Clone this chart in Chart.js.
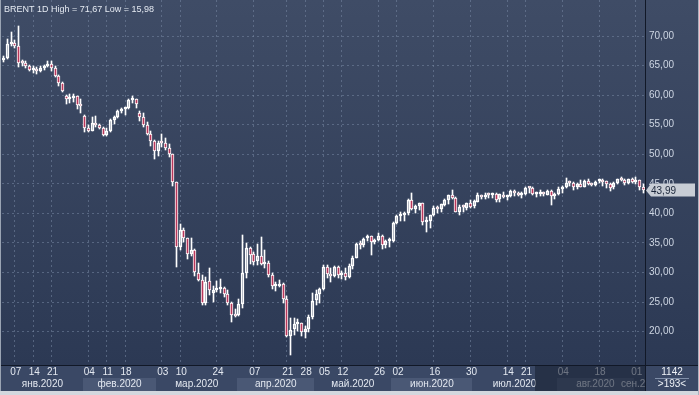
<!DOCTYPE html>
<html><head><meta charset="utf-8">
<script src="https://cdn.jsdelivr.net/npm/chart.js@4/dist/chart.umd.min.js"></script>
<style>html,body{margin:0;padding:0;background:#2e3a53;overflow:hidden}#wrap{width:699px;height:395px;position:relative}</style>
</head><body><div id="wrap"><canvas id="c" width="699" height="395"></canvas></div>
<script>
// ---- data (BRENT daily, 2020) ----
const dates = [
'01-02','01-03','01-06','01-07','01-08','01-09','01-10','01-13','01-14','01-15','01-16','01-17','01-20','01-21','01-22','01-23','01-24','01-27','01-28','01-29','01-30','01-31',
'02-03','02-04','02-05','02-06','02-07','02-10','02-11','02-12','02-13','02-14','02-17','02-18','02-19','02-20','02-21','02-24','02-25','02-26','02-27','02-28',
'03-02','03-03','03-04','03-05','03-06','03-09','03-10','03-11','03-12','03-13','03-16','03-17','03-18','03-19','03-20','03-23','03-24','03-25','03-26','03-27','03-30','03-31',
'04-01','04-02','04-03','04-06','04-07','04-08','04-09','04-13','04-14','04-15','04-16','04-17','04-20','04-21','04-22','04-23','04-24','04-27','04-28','04-29','04-30',
'05-01','05-04','05-05','05-06','05-07','05-08','05-11','05-12','05-13','05-14','05-15','05-18','05-19','05-20','05-21','05-22','05-25','05-26','05-27','05-28','05-29',
'06-01','06-02','06-03','06-04','06-05','06-08','06-09','06-10','06-11','06-12','06-15','06-16','06-17','06-18','06-19','06-22','06-23','06-24','06-25','06-26','06-29','06-30',
'07-01','07-02','07-03','07-06','07-07','07-08','07-09','07-10','07-13','07-14','07-15','07-16','07-17','07-20','07-21','07-22','07-23','07-24','07-27','07-28','07-29','07-30','07-31',
'08-03','08-04','08-05','08-06','08-07','08-10','08-11','08-12','08-13','08-14','08-17','08-18','08-19','08-20','08-21','08-24','08-25','08-26','08-27','08-28','08-31',
'09-01','09-02','09-03'];
const open = [
66.0,66.3,68.7,68.9,68.3,65.4,65.4,65.0,64.2,64.5,64.0,64.6,64.9,65.2,64.6,63.2,62.0,59.8,59.3,59.5,59.8,58.3,
56.4,54.5,54.0,55.3,54.9,54.5,53.3,54.0,55.8,56.3,57.3,57.7,57.8,59.1,59.3,57.0,56.3,55.0,53.4,52.2,
50.5,51.9,51.9,51.1,50.0,45.3,34.4,37.2,35.8,33.2,33.9,30.0,28.7,24.9,28.5,26.6,27.0,27.2,27.4,26.3,24.9,22.8,
22.8,24.7,30.0,34.1,33.1,31.9,32.8,31.5,31.7,29.6,27.7,27.8,28.1,25.6,19.3,20.4,21.3,21.4,20.0,20.5,22.5,
25.3,26.4,27.2,31.0,29.7,29.5,31.0,29.6,30.0,29.2,31.1,32.5,34.8,34.7,35.8,36.1,35.1,35.5,36.2,34.7,35.3,
35.3,38.3,39.6,39.8,40.0,42.3,40.8,41.2,41.7,38.6,38.7,39.7,41.0,40.7,41.5,42.2,43.1,42.6,40.3,41.1,41.0,41.7,
41.2,42.0,43.1,42.8,43.1,43.1,43.3,42.4,43.2,42.7,42.9,43.8,43.4,43.1,43.3,44.3,44.3,43.3,43.3,43.4,43.2,43.8,42.9,
43.3,44.2,44.4,45.2,45.1,44.4,45.0,44.5,45.4,45.0,44.8,45.4,45.5,45.4,44.9,44.4,45.1,45.9,45.6,45.1,45.8,
45.3,45.6,44.4];
const high = [
66.6,69.5,70.7,69.3,71.67,66.0,65.7,65.1,64.9,64.7,64.9,65.1,65.7,65.7,64.9,63.4,62.3,60.1,60.2,60.2,59.9,59.4,
56.7,55.0,56.3,56.4,55.2,54.6,54.5,56.0,56.4,57.5,57.8,58.0,59.3,59.9,59.4,57.4,56.9,55.5,53.9,52.5,
52.2,53.5,52.7,51.8,50.1,45.3,38.2,37.5,35.9,35.8,34.0,31.6,29.6,29.3,30.8,27.8,28.6,28.9,27.6,27.1,25.1,23.9,
25.6,36.3,35.0,34.3,33.5,34.8,36.0,33.9,31.9,29.9,28.4,28.7,28.3,26.0,22.3,22.3,22.2,21.5,20.9,22.9,26.5,
27.0,27.4,31.2,31.3,30.7,31.1,31.1,30.3,30.8,31.5,32.8,35.0,35.4,35.9,36.4,36.2,35.7,36.7,36.4,35.5,35.8,
38.5,39.7,40.3,40.3,42.5,43.4,41.5,41.8,41.8,39.4,39.8,41.3,41.3,41.6,42.5,43.2,43.9,42.8,41.4,41.5,41.8,42.3,
42.2,43.4,43.2,43.5,43.4,43.5,43.5,43.3,43.7,43.1,43.9,43.9,43.6,43.6,44.5,44.5,44.4,43.6,43.9,43.7,43.9,43.9,43.5,
44.5,44.6,46.0,45.5,45.3,45.2,45.6,45.6,45.9,45.2,45.5,45.9,45.8,45.5,45.1,45.3,45.9,46.1,45.9,45.9,46.0,
46.1,45.7,44.9];
const low = [
65.6,66.1,68.3,67.9,64.8,64.9,64.6,64.1,63.8,63.6,63.9,64.3,64.8,64.1,63.0,61.6,60.5,58.5,58.6,58.9,57.7,56.9,
53.8,53.7,53.9,54.6,54.2,53.1,53.1,53.8,55.1,56.1,56.9,56.7,57.6,58.7,57.8,55.6,54.6,53.2,51.4,49.2,
49.7,51.3,50.8,49.6,44.7,31.0,33.9,35.1,32.3,32.8,29.5,28.5,24.5,24.5,26.2,25.0,26.7,26.5,25.9,24.5,21.7,22.5,
22.7,24.0,29.0,31.5,31.3,31.2,31.3,30.8,29.3,27.3,26.9,27.6,24.8,19.1,15.98,19.5,20.1,19.2,19.0,19.9,22.1,
24.6,24.9,27.0,29.1,28.4,29.3,29.0,28.9,28.8,29.0,30.6,32.4,34.0,34.4,35.4,33.0,34.8,35.3,34.0,34.1,34.3,
35.1,38.2,38.7,38.8,39.8,40.5,40.0,40.5,38.1,36.9,37.6,39.5,40.1,40.2,41.2,41.6,42.5,40.2,39.7,40.3,40.5,41.0,
41.0,41.9,42.5,42.4,42.6,42.6,41.9,42.0,42.6,42.2,42.8,43.0,42.9,42.6,43.1,43.4,43.1,42.8,42.9,42.9,43.1,41.5,42.4,
43.1,43.5,44.3,44.6,44.0,44.2,44.4,44.4,44.8,44.6,44.6,45.1,44.7,44.3,43.8,44.2,44.9,45.4,44.8,45.0,45.1,
45.0,44.0,43.5];
const close = [
66.25,68.60,68.91,68.27,65.44,65.37,64.98,64.20,64.49,64.00,64.62,64.85,65.20,64.59,63.21,62.04,60.69,59.32,59.51,59.81,58.29,58.16,
54.45,53.96,55.28,54.93,54.47,53.27,54.01,55.79,56.34,57.32,57.67,57.75,59.12,59.31,58.50,56.30,54.95,53.43,52.18,50.52,
51.90,51.86,51.13,49.99,45.27,34.36,37.22,35.79,33.22,33.85,30.05,28.73,24.88,28.47,26.98,27.03,27.15,27.39,26.34,24.93,22.76,22.74,
24.74,29.94,34.11,33.05,31.87,32.84,31.48,31.74,29.60,27.69,27.82,28.08,25.57,19.33,20.37,21.33,21.44,19.99,20.46,22.54,25.27,
26.44,27.20,30.97,29.72,29.46,30.97,29.63,29.98,29.19,31.13,32.50,34.81,34.65,35.75,36.06,35.13,35.53,36.17,34.74,35.29,35.33,
38.32,39.57,39.79,39.99,42.30,40.80,41.18,41.73,38.55,38.73,39.72,40.96,40.71,41.51,42.19,43.08,42.63,40.31,41.05,41.02,41.71,41.15,
42.03,43.14,42.80,43.10,43.08,43.29,42.35,43.24,42.72,42.90,43.79,43.37,43.14,43.28,44.32,44.29,43.31,43.34,43.41,43.22,43.75,42.94,43.30,
44.15,44.43,45.17,45.09,44.40,44.99,44.50,45.43,44.96,44.80,45.37,45.46,45.37,44.90,44.35,45.13,45.86,45.64,45.09,45.81,45.28,
45.58,44.43,43.99];
const dayTicks = ['01-07','01-14','01-21','02-04','02-11','02-18','03-03','03-10','03-24','04-07','04-21','04-28','05-05','05-12','05-26','06-02','06-16','06-30','07-14','07-21','08-04','08-18','09-01'];
const monthNames = {'01':'янв.2020','02':'фев.2020','03':'мар.2020','04':'апр.2020','05':'май.2020','06':'июн.2020','07':'июл.2020','08':'авг.2020','09':'сен.2020'};
const yTicks = [20,25,30,35,40,45,50,55,60,65,70];
const symbol = 'BRENT 1D';
const shadeFrom = '07-24';
const cornerTop = '1142', cornerBottom = '>193<';

const fmt = v => v.toFixed(2).replace('.', ',');
const FONT = '"Liberation Sans", Arial, sans-serif';

const wickLo = dates.map((d,i)=>[low[i], Math.min(open[i],close[i])]);
const wickHi = dates.map((d,i)=>[Math.max(open[i],close[i]), high[i]]);
const body = dates.map((d,i)=>[open[i], close[i]]);
const isUp = dates.map((d,i)=>close[i] >= open[i]);

const snap = {
  id:'snap',
  beforeDatasetsDraw(chart){
    chart.data.datasets.forEach((ds,di)=>{
      chart.getDatasetMeta(di).data.forEach(el=>{
        el.x = Math.floor(el.x) + 0.5;
        el.y = Math.round(el.y);
        el.base = Math.round(el.base);
      });
    });
  }
};

const deco = {
  id:'deco',
  beforeDraw(chart){
    const {ctx, width, chartArea:ca} = chart;
    const g = ctx.createLinearGradient(0,0,0,ca.bottom);
    g.addColorStop(0,'#3f4c66'); g.addColorStop(1,'#2c3954');
    ctx.save();
    ctx.fillStyle = g; ctx.fillRect(0,0,width,ca.bottom);
    ctx.restore();
  },
  beforeDatasetsDraw(chart){
    const {ctx, chartArea:ca, scales:{x}} = chart;
    ctx.save();
    ctx.strokeStyle = 'rgba(118,134,162,0.55)';
    ctx.lineWidth = 1; ctx.setLineDash([2,3]);
    dayTicks.forEach(d=>{
      const px = Math.floor(x.getPixelForValue(dates.indexOf(d))) + 0.5;
      ctx.beginPath(); ctx.moveTo(px, ca.top); ctx.lineTo(px, ca.bottom); ctx.stroke();
    });
    ctx.restore();
  },
  afterDraw(chart){
    const {ctx, width, height, chartArea:ca, scales:{x,y}} = chart;
    const step = (ca.right-ca.left)/dates.length;
    const top = ca.bottom + 1, bot = 391;
    ctx.save();
    ctx.fillStyle = '#3a4865'; ctx.fillRect(0, top, width, bot-top);
    const months = [];
    dates.forEach((d,i)=>{ const m=d.slice(0,2); if(!months.length || months[months.length-1].m!==m) months.push({m, s:i, e:i}); else months[months.length-1].e=i; });
    ctx.save();
    ctx.beginPath(); ctx.rect(0, top, ca.right, bot-top); ctx.clip();
    months.forEach((mo,k)=>{
      const x0 = x.getPixelForValue(mo.s) - step/2, x1 = x.getPixelForValue(mo.e) + step/2;
      if(k%2===1){ ctx.fillStyle='#4a5875'; ctx.fillRect(Math.round(x0), 378, Math.round(x1)-Math.round(x0), bot-378); }
    });
    ctx.font = '10px ' + FONT; ctx.fillStyle = '#e3e8f0'; ctx.textBaseline = 'middle';
    months.forEach((mo,k)=>{
      const x0 = x.getPixelForValue(mo.s) - step/2, x1 = x.getPixelForValue(mo.e) + step/2;
      const t = monthNames[mo.m], tw = ctx.measureText(t).width;
      if (x1 >= ca.right - 1 && x1 - x0 < tw + 10) { ctx.textAlign='left'; ctx.fillText(t, x0 - 13, 384.5); }
      else { ctx.textAlign='center'; ctx.fillText(t, (x0+x1)/2, 384.5); }
    });
    ctx.textAlign = 'center';
    dayTicks.forEach(d=>{
      const px = x.getPixelForValue(dates.indexOf(d));
      ctx.fillText(d.slice(3), px + 1, 372.5);
    });
    const sx = Math.round(x.getPixelForValue(dates.indexOf(shadeFrom)) - step/2);
    ctx.fillStyle = 'rgba(24,32,50,0.58)'; ctx.fillRect(sx, top, ca.right - sx, bot-top);
    ctx.restore();
    // right corner box
    ctx.fillStyle = '#3a4865'; ctx.fillRect(ca.right, top, width-ca.right, bot-top);
    ctx.font = '10px ' + FONT; ctx.fillStyle = '#eef2f7'; ctx.textAlign='center'; ctx.textBaseline='middle';
    const cx = (ca.right + width)/2;
    ctx.fillText(cornerTop, cx, 372.5);
    ctx.fillText(cornerBottom, cx, 384.5);
    ctx.strokeStyle = '#7f8ea8'; ctx.lineWidth = 1;
    ctx.beginPath(); ctx.moveTo(cx-17, 378.5); ctx.lineTo(cx+17, 378.5); ctx.stroke();
    // separators
    ctx.strokeStyle = '#111827';
    ctx.beginPath(); ctx.moveTo(0, ca.bottom + 0.5); ctx.lineTo(width, ca.bottom + 0.5); ctx.stroke();
    ctx.beginPath(); ctx.moveTo(ca.right + 0.5, 0); ctx.lineTo(ca.right + 0.5, bot); ctx.stroke();
    // outer frame
    ctx.fillStyle = '#d3d7de'; ctx.fillRect(0, bot, width, height-bot);
    ctx.fillStyle = '#9aa4b3'; ctx.fillRect(0, 0, 1, bot);
    ctx.fillStyle = '#aab2bf'; ctx.fillRect(width-1, 0, 1, height);
    // last price tag
    const last = close[close.length-1];
    const py = Math.round(y.getPixelForValue(last));
    ctx.fillStyle = '#c8cdd5';
    ctx.beginPath();
    ctx.moveTo(ca.right + 1, py + 0.5);
    ctx.lineTo(ca.right + 6, py - 6.5);
    ctx.lineTo(width - 4, py - 6.5);
    ctx.lineTo(width - 4, py + 6.5);
    ctx.lineTo(ca.right + 6, py + 6.5);
    ctx.closePath(); ctx.fill();
    ctx.fillStyle = '#1b263a'; ctx.textAlign='left'; ctx.font = '10px ' + FONT;
    ctx.fillText(fmt(last), ca.right + 6, py + 1);
    // header
    const hi = Math.max(...high), lo = Math.min(...low);
    ctx.fillStyle = '#e4e9f1'; ctx.font = '9px ' + FONT; ctx.textAlign='left';
    ctx.fillText(symbol + ' High = ' + fmt(hi) + ' Low = ' + fmt(lo), 4, 9.5);
    ctx.restore();
  }
};

new Chart(document.getElementById('c'), {
  type: 'bar',
  data: {
    labels: dates,
    datasets: [
      {data: wickLo, backgroundColor:'#ffffff', borderWidth:0, barThickness:1, grouped:false, order:3},
      {data: wickHi, backgroundColor:'#ffffff', borderWidth:0, barThickness:1, grouped:false, order:2},
      {data: body, backgroundColor: isUp.map(u=>u?'rgba(0,0,0,0)':'#b9375b'), borderColor:'#ffffff', borderWidth:1, borderSkipped:false,
       barThickness:3, minBarLength:2, grouped:false, order:1}
    ]
  },
  options: {
    responsive:false, animation:false, devicePixelRatio:1,
    layout:{padding:{left:2, right:0, top:0, bottom:30}},
    plugins:{legend:{display:false}, tooltip:{enabled:false}},
    scales:{
      x:{display:false, offset:true},
      y:{position:'right', min:14.37, max:76.09,
        afterFit(s){ s.width = 54; s.paddingTop = 0; s.paddingBottom = 0; },
        afterBuildTicks(s){ s.ticks = yTicks.map(v=>({value:v})); },
        grid:{color:'rgba(118,134,162,0.55)', drawTicks:false, lineWidth:1},
        border:{display:false, dash:[2,3]},
        ticks:{padding:4, color:'#cdd5e2', font:{family:'"Liberation Sans", Arial, sans-serif', size:10}, callback:v=>fmt(v)}
      }
    }
  },
  plugins:[snap, deco]
});
</script>
</body></html>
